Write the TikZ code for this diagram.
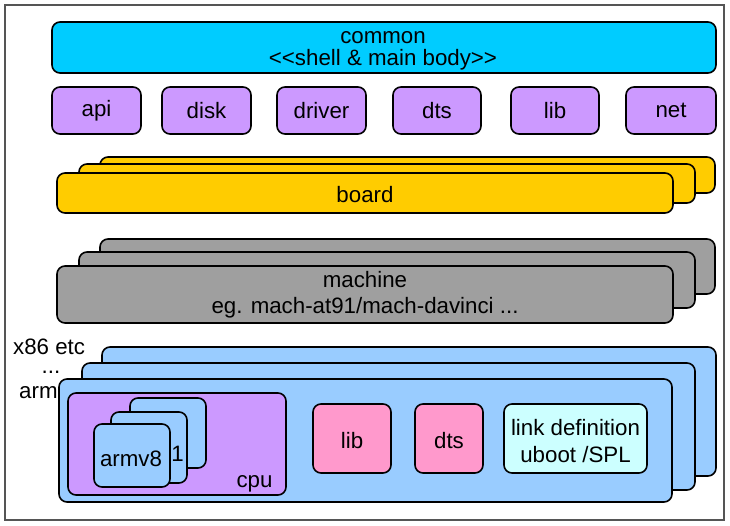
\documentclass[tikz,border=0pt]{standalone}
\usepackage{fontspec}
\setmainfont{Liberation Sans}
\definecolor{ccommon}{HTML}{00CCFF}
\definecolor{cpurple}{HTML}{CC99FF}
\definecolor{cboard}{HTML}{FFCC00}
\definecolor{cgray}{HTML}{9F9F9F}
\definecolor{cblue}{HTML}{99CCFF}
\definecolor{cpink}{HTML}{FF99CC}
\definecolor{clink}{HTML}{CCFFFF}
\definecolor{cframe}{HTML}{555555}
\tikzset{
  bx/.style={draw=black, line width=1.6pt, rounded corners=8pt, inner sep=0pt, outer sep=0pt, align=center,
    font=\fontsize{22.3}{26}\selectfont},
  lbl/.style={inner sep=0pt, font=\fontsize{22.3}{26}\selectfont},
}
\begin{document}
\begin{tikzpicture}[x=1pt,y=-1pt]
\useasboundingbox (0,0) rectangle (730,525);
\fill[white] (0,0) rectangle (730,525);
\node[draw=cframe, line width=1.2pt, inner sep=0pt, minimum width=719pt, minimum height=515pt] (frame) at (364.5,262.5) {};
% common
\node[bx, fill=ccommon, minimum width=664pt, minimum height=51pt] (common) at (384,47.5) {};
\node[lbl, anchor=base] (common1) at (383,43) {common};
\node[lbl, anchor=base] (common2) at (383,65) {<{}<shell \& main body>{}>};
\node[bx, fill=cpurple, minimum width=89pt, minimum height=47pt] (api) at (96.5,110.5) {api};
\node[bx, fill=cpurple, minimum width=89pt, minimum height=47pt] (disk) at (206.5,110.5) {disk};
\node[bx, fill=cpurple, minimum width=89pt, minimum height=47pt] (driver) at (321.5,110.5) {driver};
\node[bx, fill=cpurple, minimum width=88pt, minimum height=47pt] (dts) at (437,110.5) {dts};
\node[bx, fill=cpurple, minimum width=88pt, minimum height=47pt] (lib) at (555,110.5) {lib};
\node[bx, fill=cpurple, minimum width=90pt, minimum height=47pt] (net) at (671,110.5) {net};
% board
\node[bx, fill=cboard, minimum width=615pt, minimum height=36pt] (board3) at (407.5,175) {};
\node[bx, fill=cboard, minimum width=616pt, minimum height=39pt] (board2) at (387,183.5) {};
\node[bx, fill=cboard, minimum width=616pt, minimum height=40pt] (board1) at (365,193) {};
\node[lbl, anchor=base] (boardlbl) at (365,202) {board};
% machine
\node[bx, fill=cgray, minimum width=615pt, minimum height=55pt] (mach3) at (407.5,266.5) {};
\node[bx, fill=cgray, minimum width=616pt, minimum height=56pt] (mach2) at (387,280) {};
\node[bx, fill=cgray, minimum width=616pt, minimum height=57pt] (mach1) at (365,294.5) {};
\node[lbl, anchor=base] (mach1a) at (365,287) {machine};
\node[lbl, anchor=base] (mach1b) at (365,313) {eg. mach-at91/mach-davinci ...};
% arch
\node[bx, fill=cblue, minimum width=614pt, minimum height=129pt] (arch3) at (409,411.5) {};
\node[bx, fill=cblue, minimum width=613pt, minimum height=127pt] (arch2) at (388.5,426.5) {};
\node[bx, fill=cblue, minimum width=613pt, minimum height=123pt] (arch1) at (365.5,440.5) {};
\node[lbl, anchor=base west] (x86) at (13,354) {x86 etc};
\node[lbl, anchor=base, text height=3pt, text depth=0pt] (dots) at (51,373) {...};
\node[lbl, anchor=base west] (arm) at (19,398) {arm};
% cpu
\node[bx, fill=cpurple, minimum width=218pt, minimum height=102pt] (cpu) at (177,444) {};
\node[lbl, anchor=base] (cpulbl) at (254.5,487) {cpu};
\node[bx, fill=cblue, minimum width=76pt, minimum height=70pt] (core3) at (168,433) {};
\node[bx, fill=cblue, minimum width=76pt, minimum height=71pt] (core2) at (149,447.5) {};
\node[lbl, anchor=base] (one) at (177.5,461) {1};
\node[bx, fill=cblue, minimum width=76pt, minimum height=63pt] (core1) at (132,455.5) {};
\node[lbl, anchor=base] (armv8) at (131,466) {armv8};
% arch contents
\node[bx, fill=cpink, minimum width=78pt, minimum height=69pt] (alib) at (352,438.5) {};
\node[lbl, anchor=base] (aliblbl) at (352,448) {lib};
\node[bx, fill=cpink, minimum width=68pt, minimum height=69pt] (adts) at (449,438.5) {};
\node[lbl, anchor=base] (adtslbl) at (449,448) {dts};
\node[bx, fill=clink, minimum width=143pt, minimum height=69pt] (link) at (575.5,438.5) {};
\node[lbl, anchor=base] (link1) at (575.5,435) {link definition};
\node[lbl, anchor=base] (link2) at (575.5,462) {uboot /SPL};
\end{tikzpicture}
\end{document}
